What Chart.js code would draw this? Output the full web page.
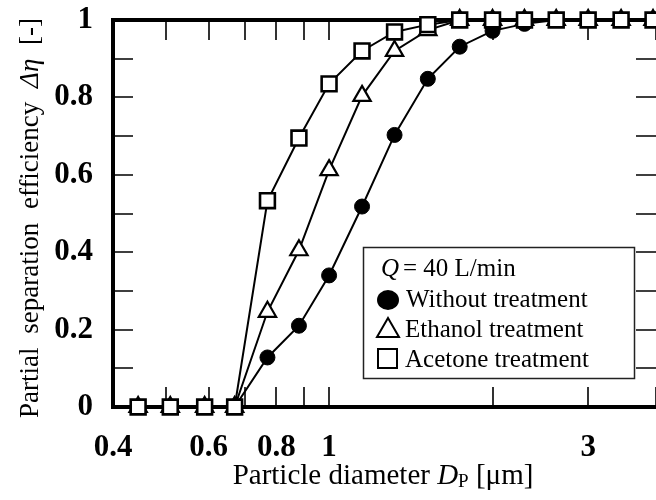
<!DOCTYPE html>
<html>
<head>
<meta charset="utf-8">
<script src="https://cdn.jsdelivr.net/npm/chart.js@4.4.0/dist/chart.umd.min.js"></script>
<style>
  body { margin: 0; background: #fff; }
  #wrap { width: 656px; height: 500px; }
</style>
</head>
<body>
<div id="wrap"><canvas id="myChart" width="656" height="500"></canvas></div>
<script>
// Particle diameter Dp [um]
const diameters = [0.445, 0.51, 0.59, 0.67, 0.77, 0.88, 1.0, 1.15, 1.32, 1.52, 1.74, 2.0, 2.29, 2.62, 3.0, 3.45, 3.95];

// Partial separation efficiency for each treatment
const withoutTreatment = [0, 0, 0, 0, 0.128, 0.21, 0.34, 0.518, 0.703, 0.848, 0.931, 0.972, 0.99, 1, 1, 1, 1];
const ethanolTreatment = [0, 0, 0, 0, 0.246, 0.405, 0.612, 0.804, 0.92, 0.974, 1, 1, 1, 1, 1, 1, 1];
const acetoneTreatment = [0, 0, 0, 0, 0.533, 0.695, 0.835, 0.92, 0.969, 0.988, 1, 1, 1, 1, 1, 1, 1];

const seriesNames = ['Without treatment', 'Ethanol treatment', 'Acetone treatment'];

// Tick values and their labels
const xTicks = [0.4, 0.5, 0.6, 0.7, 0.8, 0.9, 1, 2, 3, 4];
const xLabels = ['0.4', '', '0.6', '', '0.8', '', '1', '', '3', ''];
const yTicks = [0, 0.1, 0.2, 0.3, 0.4, 0.5, 0.6, 0.7, 0.8, 0.9, 1];
const yLabels = ['0', '', '0.2', '', '0.4', '', '0.6', '', '0.8', '', '1'];

const serif = "'Liberation Serif', 'Times New Roman', serif";

function toPoints(ys) {
    return diameters.map((d, i) => ({x: d, y: ys[i]}));
}

// draw a line of text made of several font runs, starting at x
function drawRuns(ctx, runs, x, y) {
    let cx = x;
    runs.forEach(r => {
        ctx.font = r.font;
        ctx.fillText(r.text, cx, y + (r.dy || 0));
        cx += ctx.measureText(r.text).width + (r.gap || 0);
    });
}
function runsWidth(ctx, runs) {
    let w = 0;
    runs.forEach(r => { ctx.font = r.font; w += ctx.measureText(r.text).width + (r.gap || 0); });
    return w;
}

// frame, inward ticks, axis titles and the boxed legend
const framePlugin = {
    id: 'frame',
    beforeDatasetsDraw(chart) {
        const {ctx, chartArea: a, scales: {x, y}} = chart;
        ctx.save();
        ctx.strokeStyle = '#000';
        ctx.lineWidth = 1.6;
        ctx.beginPath();
        x.ticks.forEach(t => {
            const px = Math.round(x.getPixelForValue(t.value));
            ctx.moveTo(px, a.bottom); ctx.lineTo(px, a.bottom - 20);
            ctx.moveTo(px, a.top); ctx.lineTo(px, a.top + 20);
        });
        y.ticks.forEach(t => {
            const py = Math.round(y.getPixelForValue(t.value));
            ctx.moveTo(a.left, py); ctx.lineTo(a.left + 20, py);
            ctx.moveTo(a.right, py); ctx.lineTo(a.right - 20, py);
        });
        ctx.stroke();

        ctx.lineWidth = 4;
        ctx.beginPath();
        ctx.moveTo(a.right + 5, a.top);
        ctx.lineTo(a.left, a.top);
        ctx.lineTo(a.left, a.bottom);
        ctx.lineTo(a.right + 5, a.bottom);
        ctx.stroke();
        ctx.restore();
    },
    afterDraw(chart) {
        const ctx = chart.ctx;
        ctx.save();
        ctx.fillStyle = '#000';
        ctx.textBaseline = 'alphabetic';

        // x axis title
        const xt = [
            {text: 'Particle diameter ', font: '29px ' + serif},
            {text: 'D', font: 'italic 29px ' + serif},
            {text: 'P', font: '19px ' + serif, dy: 3},
            {text: ' [\u03bcm]', font: '29px ' + serif}
        ];
        drawRuns(ctx, xt, 383 - runsWidth(ctx, xt) / 2, 484);

        // y axis title, rotated, words spread to fill the height
        const yt = [
            {text: 'Partial', font: '27px ' + serif},
            {text: 'separation', font: '27px ' + serif},
            {text: 'efficiency', font: '27px ' + serif},
            {text: '\u0394\u03b7', font: 'italic 27px ' + serif},
            {text: '[-]', font: '27px ' + serif}
        ];
        const target = 400;
        const gap = (target - runsWidth(ctx, yt)) / (yt.length - 1);
        yt.forEach((r, i) => { if (i < yt.length - 1) r.gap = gap; });
        ctx.translate(38, 218);
        ctx.rotate(-Math.PI / 2);
        drawRuns(ctx, yt, -target / 2, 0);
        ctx.setTransform(1, 0, 0, 1, 0, 0);

        // legend box
        ctx.fillStyle = '#fff';
        ctx.fillRect(363, 247, 272, 131);
        ctx.strokeStyle = '#222';
        ctx.lineWidth = 1.5;
        ctx.strokeRect(363.5, 247.5, 271, 131);

        ctx.fillStyle = '#000';
        ctx.font = 'italic 25px ' + serif;
        ctx.fillText('Q', 381, 276);
        ctx.font = '25px ' + serif;
        ctx.fillText('= 40 L/min', 403, 276);

        ctx.fillText(seriesNames[0], 406, 307);
        ctx.fillText(seriesNames[1], 405, 337);
        ctx.fillText(seriesNames[2], 405, 367);

        // legend markers
        ctx.beginPath();
        ctx.ellipse(388, 300, 11, 10, 0, 0, Math.PI * 2);
        ctx.fill();

        ctx.lineWidth = 2;
        ctx.strokeStyle = '#000';
        ctx.beginPath();
        ctx.moveTo(388, 318);
        ctx.lineTo(399, 337);
        ctx.lineTo(377, 337);
        ctx.closePath();
        ctx.stroke();

        ctx.strokeRect(378, 349, 19, 19);
        ctx.restore();
    }
};

const myChart = document.getElementById('myChart');

new Chart(myChart, {
    type: 'line',
    data: {
        datasets: [
            {
                label: seriesNames[0],
                data: toPoints(withoutTreatment),
                order: 3,
                borderColor: '#000',
                borderWidth: 2,
                pointStyle: 'circle',
                pointRadius: 7.5,
                pointBackgroundColor: '#000',
                pointBorderColor: '#000',
                pointBorderWidth: 1,
                clip: false
            },
            {
                label: seriesNames[1],
                data: toPoints(ethanolTreatment),
                order: 2,
                borderColor: '#000',
                borderWidth: 2,
                pointStyle: 'triangle',
                pointRadius: 10,
                pointBackgroundColor: '#fff',
                pointBorderColor: '#000',
                pointBorderWidth: 2.2,
                clip: false
            },
            {
                label: seriesNames[2],
                data: toPoints(acetoneTreatment),
                order: 1,
                borderColor: '#000',
                borderWidth: 2,
                pointStyle: 'rect',
                pointRadius: 10.5,
                pointBackgroundColor: '#fff',
                pointBorderColor: '#000',
                pointBorderWidth: 2.6,
                clip: false
            }
        ]
    },
    options: {
        responsive: false,
        animation: false,
        layout: {autoPadding: false, padding: {top: 20, right: 0, left: 0, bottom: 0}},
        plugins: {
            legend: {display: false},
            tooltip: {enabled: false}
        },
        scales: {
            x: {
                type: 'logarithmic',
                min: 0.4,
                max: 4,
                afterBuildTicks: s => { s.ticks = xTicks.map(v => ({value: v})); },
                afterFit: s => { s.height = 93; s.paddingLeft = 0; s.paddingRight = 0; },
                grid: {display: false, drawTicks: false},
                border: {display: false},
                ticks: {
                    autoSkip: false,
                    maxRotation: 0,
                    padding: 22,
                    color: '#000',
                    font: {family: serif, size: 31, weight: 'bold'},
                    callback: (v, i) => xLabels[i]
                }
            },
            y: {
                type: 'linear',
                min: 0,
                max: 1,
                afterBuildTicks: s => { s.ticks = yTicks.map(v => ({value: v})); },
                afterFit: s => { s.width = 113; s.paddingTop = 0; s.paddingBottom = 0; },
                grid: {display: false, drawTicks: false},
                border: {display: false},
                ticks: {
                    autoSkip: false,
                    padding: 20,
                    color: '#000',
                    font: {family: serif, size: 31, weight: 'bold'},
                    callback: (v, i) => yLabels[i]
                }
            }
        }
    },
    plugins: [framePlugin]
});
</script>
</body>
</html>
